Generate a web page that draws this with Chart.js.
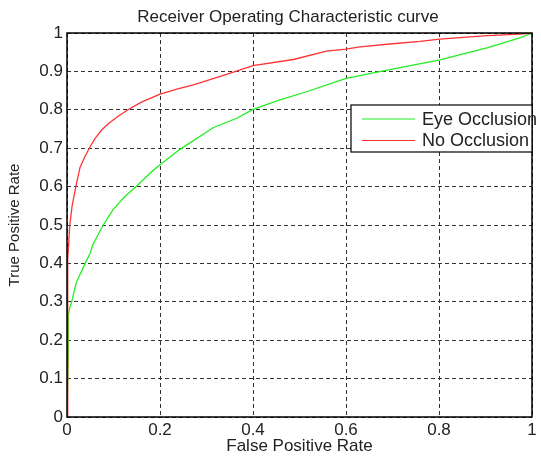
<!DOCTYPE html>
<html>
<head>
<meta charset="utf-8">
<script src="https://cdn.jsdelivr.net/npm/chart.js@4.4.1/dist/chart.umd.min.js"></script>
<style>
  html, body { margin: 0; padding: 0; background: #fff; }
  #wrap { width: 541px; height: 457px; }
</style>
</head>
<body>
<div id="wrap"><canvas id="rocChart"></canvas></div>
<script>
// values
var titleText = 'Receiver Operating Characteristic curve';
var seriesNames = ['Eye Occlusion', 'No Occlusion'];
var seriesColors = ['#22ee22', '#ff3333'];

var eyeFpr = [0, 0.003, 0.003, 0.006, 0.01, 0.02, 0.039, 0.05, 0.056, 0.078, 0.099, 0.125, 0.153, 0.17, 0.185, 0.2, 0.243, 0.315, 0.365, 0.4, 0.458, 0.515, 0.6, 0.659, 0.73, 0.802, 0.85, 0.903, 0.974, 1];
var eyeTpr = [0, 0.175, 0.265, 0.285, 0.3, 0.35, 0.4, 0.427, 0.45, 0.5, 0.54, 0.575, 0.605, 0.625, 0.642, 0.657, 0.697, 0.754, 0.778, 0.801, 0.826, 0.847, 0.882, 0.896, 0.913, 0.93, 0.945, 0.961, 0.987, 1];

var noFpr = [0, 0.001, 0.002, 0.004, 0.006, 0.011, 0.019, 0.028, 0.038, 0.048, 0.06, 0.075, 0.09, 0.11, 0.131, 0.16, 0.2, 0.24, 0.272, 0.343, 0.4, 0.487, 0.558, 0.6, 0.63, 0.7, 0.759, 0.802, 0.903, 0.974, 1];
var noTpr = [0, 0.25, 0.41, 0.46, 0.5, 0.55, 0.6, 0.65, 0.677, 0.7, 0.725, 0.748, 0.765, 0.783, 0.8, 0.82, 0.841, 0.855, 0.865, 0.892, 0.915, 0.931, 0.953, 0.958, 0.964, 0.972, 0.978, 0.984, 0.993, 0.997, 1];

var xTicks = [0, 0.2, 0.4, 0.6, 0.8, 1];
var yTicks = [0, 0.1, 0.2, 0.3, 0.4, 0.5, 0.6, 0.7, 0.8, 0.9, 1];

function toPoints(xs, ys) {
    return xs.map(function (x, i) { return { x: x, y: ys[i] }; });
}

var fontFamily = '"Liberation Sans", Arial, Helvetica, sans-serif';
Chart.defaults.font.family = fontFamily;
Chart.defaults.color = '#222';

// box round the axes, title over the axes, legend inside top right
var matlabLook = {
    id: 'matlabLook',
    afterDraw: function (chart) {
        var ctx = chart.ctx, a = chart.chartArea;
        ctx.save();
        ctx.strokeStyle = '#000';
        ctx.lineWidth = 1.5;
        ctx.strokeRect(a.left, a.top, a.right - a.left, a.bottom - a.top);

        ctx.fillStyle = '#222';
        ctx.font = '17px ' + fontFamily;
        ctx.textAlign = 'center';
        ctx.textBaseline = 'middle';
        ctx.fillText(titleText, 288, 17);

        // legend
        var lx = 351, ly = 105, lw = a.right - lx, lh = 47;
        ctx.fillStyle = '#fff';
        ctx.fillRect(lx, ly, lw, lh);
        ctx.lineWidth = 1.2;
        ctx.strokeStyle = '#000';
        ctx.strokeRect(lx, ly, lw, lh);
        ctx.font = '18px ' + fontFamily;
        ctx.textAlign = 'left';
        chart.data.datasets.forEach(function (ds, i) {
            var cy = ly + 14 + i * 21.5;
            ctx.strokeStyle = ds.borderColor;
            ctx.lineWidth = 1.2;
            ctx.beginPath();
            ctx.moveTo(lx + 11, cy);
            ctx.lineTo(lx + 64, cy);
            ctx.stroke();
            ctx.fillStyle = '#222';
            ctx.fillText(ds.label, lx + 71, cy + 1);
        });
        ctx.restore();
    }
};

var ctx = document.getElementById('rocChart');
var rocChart = new Chart(ctx, {
    type: 'line',
    data: {
        datasets: [{
            label: seriesNames[0],
            data: toPoints(eyeFpr, eyeTpr),
            borderColor: seriesColors[0],
            borderWidth: 1.3,
            pointRadius: 0,
            tension: 0,
            order: 2
        }, {
            label: seriesNames[1],
            data: toPoints(noFpr, noTpr),
            borderColor: seriesColors[1],
            borderWidth: 1.3,
            pointRadius: 0,
            tension: 0,
            order: 1
        }]
    },
    options: {
        responsive: true,
        maintainAspectRatio: false,
        animation: false,
        layout: { padding: { top: 33, right: 9, left: 0, bottom: 0 } },
        plugins: {
            legend: { display: false },
            title: { display: false },
            tooltip: { enabled: false }
        },
        scales: {
            x: {
                type: 'linear',
                min: 0,
                max: 1,
                afterBuildTicks: function (scale) {
                    scale.ticks = xTicks.map(function (v) { return { value: v }; });
                },
                afterFit: function (scale) { scale.height = 40; },
                ticks: {
                    font: { size: 17 },
                    padding: 3,
                    maxRotation: 0,
                    callback: function (v) { return String(v); }
                },
                grid: { color: '#333', lineWidth: 1, drawTicks: false },
                border: { display: false, dash: [4, 3] },
                title: {
                    display: true,
                    text: 'False Positive Rate',
                    font: { size: 17 },
                    padding: { top: 0, bottom: 0 }
                }
            },
            y: {
                type: 'linear',
                min: 0,
                max: 1,
                afterBuildTicks: function (scale) {
                    scale.ticks = yTicks.map(function (v) { return { value: v }; });
                },
                afterFit: function (scale) { scale.width = 67; },
                ticks: {
                    font: { size: 17 },
                    padding: 4,
                    callback: function (v) { return String(v); }
                },
                grid: { color: '#333', lineWidth: 1, drawTicks: false },
                border: { display: false, dash: [4, 3] },
                title: {
                    display: true,
                    text: 'True Positive Rate',
                    font: { size: 15 },
                    padding: { top: 6, bottom: 0 }
                }
            }
        }
    },
    plugins: [matlabLook]
});
</script>
</body>
</html>
